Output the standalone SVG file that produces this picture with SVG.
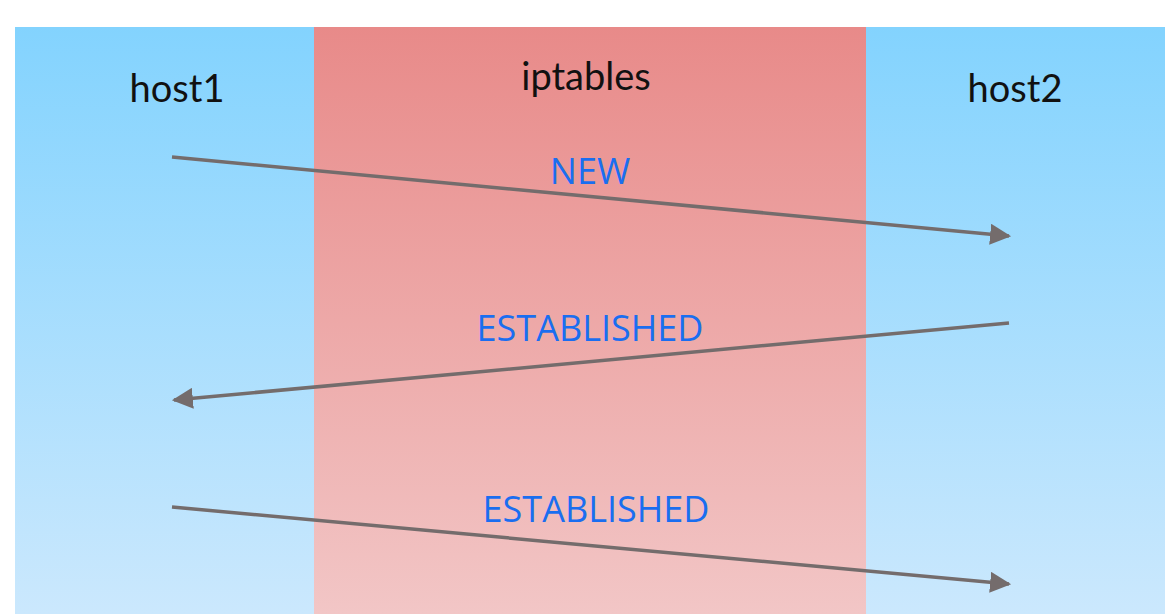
<svg xmlns="http://www.w3.org/2000/svg" width="1176" height="614" viewBox="0 0 1176 614">
<defs>
<linearGradient id="gBlue" x1="0" y1="0" x2="0" y2="1">
<stop offset="0" stop-color="#83d3fe"/>
<stop offset="1" stop-color="#cbe8fd"/>
</linearGradient>
<linearGradient id="gRed" x1="0" y1="0" x2="0" y2="1">
<stop offset="0" stop-color="#e88a89"/>
<stop offset="1" stop-color="#f2c6c6"/>
</linearGradient>
<marker id="arr" viewBox="0 0 10 10" refX="9" refY="5" markerWidth="6" markerHeight="6" markerUnits="strokeWidth" orient="auto">
<path d="M0,0 L10,5 L0,10 z" fill="#746c6c"/>
</marker>
<style>
.lbl{font-family:"Lato","Noto Sans",sans-serif;font-size:38px;fill:#111;text-anchor:middle}
.st{font-family:"Open Sans","Noto Sans",sans-serif;font-size:36px;fill:#1a6ef0;text-anchor:middle}
.con{stroke:#746c6c;stroke-width:3.5;fill:none;marker-end:url(#arr)}
</style>
</defs>
<rect width="1176" height="614" fill="#fff"/>
<g id="host1">
<rect x="15" y="27" width="299" height="587" fill="url(#gBlue)"/>
<text class="lbl" x="177" y="102">host1</text>
</g>
<g id="iptables">
<rect x="314" y="27" width="552" height="587" fill="url(#gRed)"/>
<text class="lbl" x="586" y="90">iptables</text>
</g>
<g id="host2">
<rect x="866" y="27" width="299" height="587" fill="url(#gBlue)"/>
<text class="lbl" x="1015" y="102">host2</text>
</g>
<g id="connectors">
<line class="con" x1="172" y1="157" x2="1009" y2="236"/>
<line class="con" x1="1009" y1="323" x2="174" y2="400"/>
<line class="con" x1="172" y1="507" x2="1009" y2="584"/>
<text class="st" x="590" y="184">NEW</text>
<text class="st" x="590" y="341">ESTABLISHED</text>
<text class="st" x="596" y="522">ESTABLISHED</text>
</g>
</svg>
